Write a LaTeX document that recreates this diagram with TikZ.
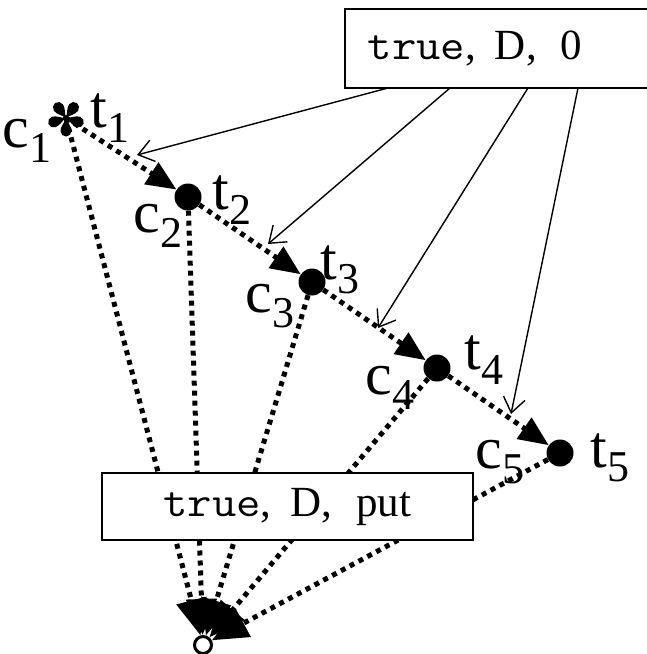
\documentclass[tikz,border=0pt]{standalone}
\usepackage{fontspec}
\setmainfont{Liberation Serif}
\usetikzlibrary{arrows.meta}

% point labels: letter with a large lowered index
\newcommand\ptlab[2]{\fontsize{60}{60}\selectfont #1\raisebox{-0.24em}{\fontsize{44}{44}\selectfont #2}}
% state triple: typewriter flag, serif D, serif last entry
\newcommand\statetext[1]{\fontsize{43}{43}\selectfont
  \scalebox{1.1}[1]{\ttfamily true},\hspace{19pt}D,\hspace{24pt}#1}

\begin{document}
\begin{tikzpicture}[x=1pt,y=-1pt,
  dotted thick/.style={line width=5pt, dash pattern=on 5pt off 5pt},
  dotline/.style={dotted thick, -{Triangle[length=30pt,width=25pt]}},
  dotfinal/.style={dotted thick, -{Triangle[length=36pt,width=30pt]}},
  thinarrow/.style={line width=1.4pt, -{Straight Barb[length=15pt,width=22pt,line width=1.4pt]}},
  pt/.style={circle, fill=black, minimum size=27pt, inner sep=0pt},
  state/.style={draw, line width=1.6pt, fill=white, inner sep=0pt},
  lab/.style={inner sep=0pt}
]
\useasboundingbox (0,0) rectangle (647,654);

% points of the run; the first one is marked by a five-petal star
\coordinate (c1) at (66,118);
\foreach \a in {-90,-18,54,126,198}
  \fill[shift={(c1)}, rotate=\a]
    (0,0) .. controls (5,-1.5) and (8,-5.5) .. (13,-5.5)
          arc[start angle=-90, end angle=90, radius=5.5]
          .. controls (8,5.5) and (5,1.5) .. (0,0) -- cycle;
\fill (c1) circle (3pt);
\node[pt] (d2) at (188,197) {};
\node[pt] (d3) at (312,282) {};
\node[pt] (d4) at (437,368) {};
\node[pt] (d5) at (560,453) {};
\node[circle, draw, line width=3pt, minimum size=17pt, inner sep=0pt] (e) at (203,645) {};

% labels
\node[lab] (t1) at (110,118) {\ptlab{t}{1}};
\node[lab] (l1) at (27,141) {\ptlab{c}{1}};
\node[lab] (t2) at (232,200) {\ptlab{t}{2}};
\node[lab] (l2) at (158,226) {\ptlab{c}{2}};
\node[lab] (t3) at (340,270) {\ptlab{t}{3}};
\node[lab] (l3) at (270,306) {\ptlab{c}{3}};
\node[lab] (t4) at (484,360) {\ptlab{t}{4}};
\node[lab] (l4) at (390,388) {\ptlab{c}{4}};
\node[lab] (t5) at (610,458) {\ptlab{t}{5}};
\node[lab] (l5) at (500,462) {\ptlab{c}{5}};

% dotted lines into the final state (under the lower box)
\draw[dotfinal] (c1) -- (e);
\draw[dotfinal] (d2) -- (e);
\draw[dotfinal] (d3) -- (e);
\draw[dotfinal] (d4) -- (e);
\draw[dotfinal] (d5) -- (e);

% lower state box
\node[state, minimum width=371pt, minimum height=67pt] (bot) at (287.5,506.5)
  {\statetext{put}};

% dotted chain between successive points
\draw[dotline] (c1) -- (d2);
\draw[dotline] (d2) -- (d3);
\draw[dotline] (d3) -- (d4);
\draw[dotline] (d4) -- (d5);

% upper state box, running past the right edge
\node[state, anchor=west, inner xsep=23pt, text width=280pt, align=left,
      minimum height=79pt] (top) at (344,48.5) {\statetext{0}};

% thin arrows from the upper box onto the chain
\coordinate (s1) at (388,88);
\coordinate (s2) at (450,88);
\coordinate (s3) at (528,88);
\coordinate (s4) at (578,88);
\coordinate (a1) at (137,155);
\coordinate (a2) at (268,244);
\coordinate (a3) at (378,328);
\coordinate (a4) at (511,414);
\draw[thinarrow] (s1) -- (a1);
\draw[thinarrow] (s2) -- (a2);
\draw[thinarrow] (s3) -- (a3);
\draw[thinarrow] (s4) -- (a4);
\end{tikzpicture}
\end{document}
